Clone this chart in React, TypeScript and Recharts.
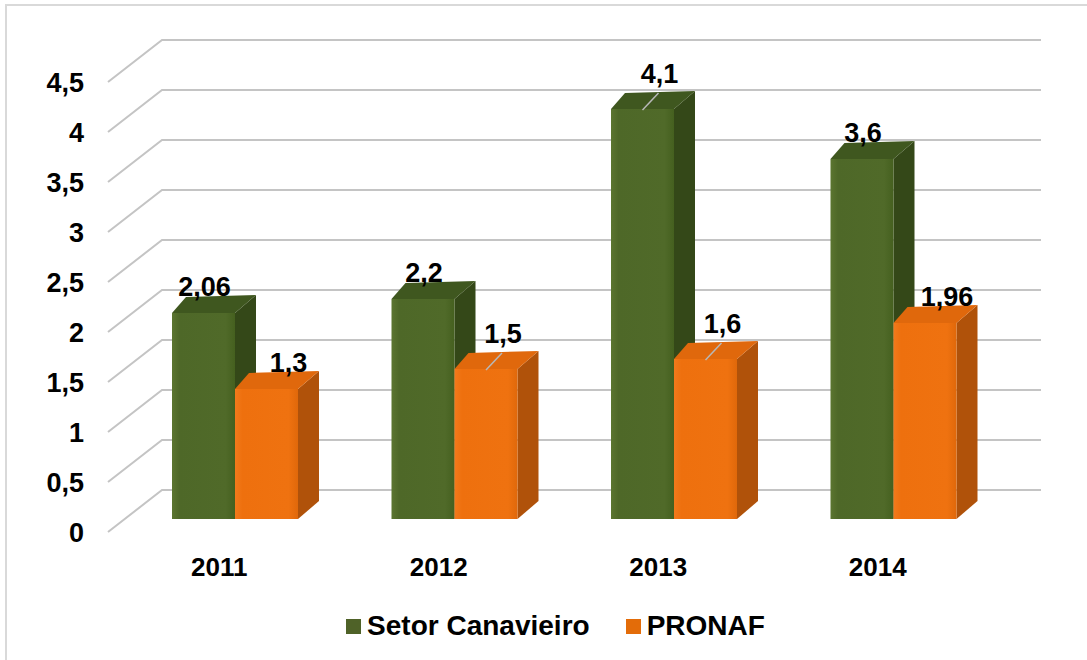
import React from 'react';
import { BarChart, Bar, XAxis, YAxis, CartesianGrid, Legend, LabelList } from 'recharts';

const years = ['2011', '2012', '2013', '2014'];
const setorCanavieiro = [2.06, 2.2, 4.1, 3.6];
const pronaf = [1.3, 1.5, 1.6, 1.96];
const yTicks = [0, 0.5, 1, 1.5, 2, 2.5, 3, 3.5, 4, 4.5];

const data = years.map((year, i) => ({
  year,
  setor: setorCanavieiro[i],
  pronaf: pronaf[i],
}));

const FONT = '"Liberation Sans", Arial, sans-serif';
const fmt = (v: number) => String(v).replace('.', ',');

// depth of the fake 3D look
const DL = { dx: 14, dy: -16 };
const DR = { dx: 21, dy: -18 };

const makeBar3D = (id: string, top: string, side: string) => (props: any) => {
  const { x, y, width, height } = props;
  if (height == null || height <= 0) return null;
  const yb = y + height;
  const xr = x + width;
  return (
    <g>
      <polygon
        points={`${xr},${y} ${xr + DR.dx},${y + DR.dy} ${xr + DR.dx},${yb + DR.dy} ${xr},${yb}`}
        fill={side}
      />
      <polygon
        points={`${x},${y} ${xr},${y} ${xr + DR.dx},${y + DR.dy} ${x + DL.dx},${y + DL.dy}`}
        fill={top}
      />
      <rect x={x} y={y} width={width} height={height} fill={`url(#${id})`} />
    </g>
  );
};

const GreenBar = makeBar3D('gFront', '#3f571f', '#344818');
const OrangeBar = makeBar3D('oFront', '#e0680c', '#b0520a');

const makeLabel = (shift: number, leaders: number[]) => (props: any) => {
  const { x, y, width, value, index } = props;
  const cx = x + width / 2;
  const lead = leaders.includes(index);
  const lx = lead ? cx + 17 : cx + shift;
  const ly = lead ? y - 36 : y - 27;
  return (
    <g>
      {lead && (
        <line x1={cx} y1={y + 1} x2={cx + 16} y2={y - 16} stroke="#b8b8b8" strokeWidth={1.5} />
      )}
      <text
        x={lx}
        y={ly + 9.5}
        textAnchor="middle"
        fontFamily={FONT}
        fontWeight="bold"
        fontSize={27}
        fill="#000"
      >
        {fmt(value)}
      </text>
    </g>
  );
};

const GridLine = (props: any) => {
  const { x1, x2, y1 } = props;
  const yb = y1 - 29;
  const xs = x1 + 37;
  return (
    <g key={`g-${y1}`}>
      <polyline
        points={`${x1 - 17},${y1 + 13} ${xs},${yb} ${x2 + 38},${yb}`}
        fill="none"
        stroke="#c4c4c4"
        strokeWidth={2}
      />
    </g>
  );
};

const YTick = (props: any) => {
  const { x, y, payload } = props;
  return (
    <text
      x={x - 41}
      y={y + 22.5}
      textAnchor="end"
      fontFamily={FONT}
      fontWeight="bold"
      fontSize={27}
      fill="#000"
    >
      {fmt(payload.value)}
    </text>
  );
};

const XTick = (props: any) => {
  const { x, y, payload } = props;
  return (
    <text
      x={x - 15.5}
      y={y + 57}
      textAnchor="middle"
      fontFamily={FONT}
      fontWeight="bold"
      fontSize={26}
      fill="#000"
    >
      {payload.value}
    </text>
  );
};

const legendItems = [
  { label: 'Setor Canavieiro', color: '#4f6228' },
  { label: 'PRONAF', color: '#e36c09' },
];

const LegendContent = () => (
  <div style={{ display: 'flex', justifyContent: 'center', alignItems: 'center', gap: 36 }}>
    {legendItems.map((it) => (
      <div key={it.label} style={{ display: 'flex', alignItems: 'center' }}>
        <span style={{ width: 15, height: 15, background: it.color, marginRight: 6, display: 'inline-block' }} />
        <span style={{ fontFamily: FONT, fontWeight: 'bold', fontSize: 28, color: '#000', lineHeight: '30px' }}>
          {it.label}
        </span>
      </div>
    ))}
  </div>
);

export default function App() {
  return (
    <div style={{ position: 'absolute', left: 0, top: 0, width: 1087, height: 660, background: '#fff', overflow: 'hidden' }}>
      <div
        style={{
          position: 'absolute',
          left: 5,
          top: 4,
          width: 1100,
          height: 700,
          border: '2px solid #d9d9d9',
        }}
      />
      <BarChart
        width={1087}
        height={660}
        data={data}
        margin={{ top: 69, right: 84, bottom: 101, left: 25 }}
        barGap={0}
        barSize={63}
      >
        <defs>
          <linearGradient id="gFront" x1="0" y1="0" x2="1" y2="0">
            <stop offset="0" stopColor="#5b7530" />
            <stop offset="0.12" stopColor="#4e6828" />
            <stop offset="0.85" stopColor="#506a29" />
            <stop offset="1" stopColor="#45601f" />
          </linearGradient>
          <linearGradient id="oFront" x1="0" y1="0" x2="1" y2="0">
            <stop offset="0" stopColor="#f27a1c" />
            <stop offset="0.12" stopColor="#ee700e" />
            <stop offset="0.85" stopColor="#ef7210" />
            <stop offset="1" stopColor="#e0680a" />
          </linearGradient>
        </defs>
        <CartesianGrid vertical={false} horizontal={GridLine} />
        <XAxis
          dataKey="year"
          axisLine={false}
          tickLine={false}
          tickSize={0}
          tickMargin={0}
          height={40}
          tick={XTick}
        />
        <YAxis
          domain={[0, 4.5]}
          ticks={yTicks}
          axisLine={false}
          tickLine={false}
          tickSize={0}
          tickMargin={0}
          width={100}
          tick={YTick}
          interval={0}
        />
        <Legend
          verticalAlign="middle"
          align="center"
          layout="horizontal"
          content={LegendContent}
          wrapperStyle={{ top: 611, left: 12, width: 1087, height: 30 }}
        />
        <Bar dataKey="setor" name="Setor Canavieiro" fill="#4f6228" shape={GreenBar} isAnimationActive={false}>
          <LabelList dataKey="setor" content={makeLabel(1, [2])} />
        </Bar>
        <Bar dataKey="pronaf" name="PRONAF" fill="#e36c09" shape={OrangeBar} isAnimationActive={false}>
          <LabelList dataKey="pronaf" content={makeLabel(22, [1, 2])} />
        </Bar>
      </BarChart>
    </div>
  );
}
